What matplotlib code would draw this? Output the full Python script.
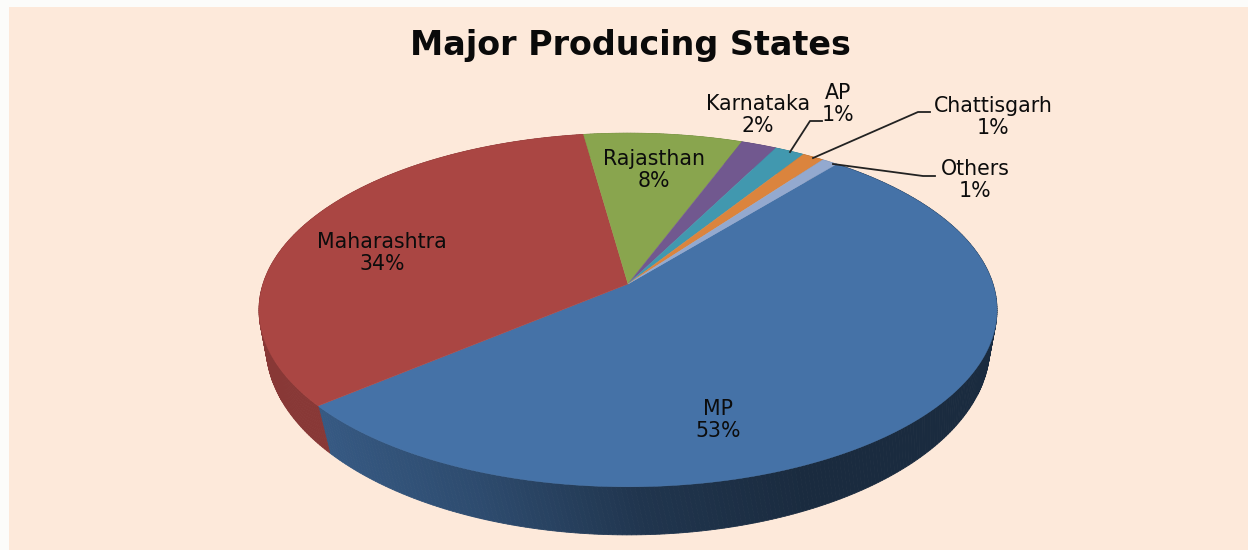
import numpy as np
import matplotlib
matplotlib.use("Agg")
import matplotlib.pyplot as plt
from matplotlib.colors import to_rgb

# ---- data ----
states = ["MP", "Maharashtra", "Rajasthan", "Karnataka", "AP", "Chattisgarh", "Others"]
shares = [53.0, 33.8, 8.0, 1.8, 1.5, 1.1, 0.8]
pct_labels = ["53%", "34%", "8%", "2%", "1%", "1%", "1%"]
colors = ["#4572a7", "#aa4643", "#89a54e", "#71588f", "#4198af", "#db843d", "#93a9cf"]
label_xy = [(718, 420), (382, 253), (654, 170), (758, 115), (838, 104), (993, 117), (975, 180)]
leaders = {
    "AP": [(790, 152), (810, 121), (822, 121)],
    "Chattisgarh": [(813, 158), (918, 112), (930, 112)],
    "Others": [(833, 164), (923, 176), (935, 176)],
}

BG = "#fde9da"
START = 50.5          # degrees, first slice start, going clockwise
K = 0.147             # perspective factor
TOP = (628, 284, 365, 173)      # apex x, apex y, a, b  (upper rim)
BOT = (628, 318, 358, 185)      # apex x, apex y, a, b  (lower rim)
WALL_SKEW = np.radians(1.5)

def rim(t, p):
    x0, y0, a, b = p
    d = 1 + K * np.sin(t)
    return x0 + a * np.cos(t) / d, y0 - b * np.sin(t) / d

def shade(base, frac):
    return tuple(c * frac for c in to_rgb(base))

fig = plt.figure(figsize=(12.48, 5.50), dpi=100, facecolor="#fcfcfa")
ax = fig.add_axes([0, 0, 1, 1])
ax.set_xlim(0, 1248)
ax.set_ylim(550, 0)
ax.axis("off")
ax.fill([9, 1248, 1248, 9], [7, 7, 550, 550], color=BG, lw=0, zorder=0)

fracs = np.array(shares) / sum(shares)
edges = np.radians(START - 360 * np.concatenate([[0], np.cumsum(fracs)]))

# side wall
for i, c in enumerate(colors):
    ts = np.linspace(edges[i], edges[i + 1], max(3, int(abs(edges[i + 1] - edges[i]) * 90)))
    for t0, t1 in zip(ts[:-1], ts[1:]):
        xa, ya = rim(np.array([t0, t1]), TOP)
        xb, yb = rim(np.array([t1, t0]) + WALL_SKEW, BOT)
        xm = (xa.mean() + xb.mean()) / 2
        if i == 0:
            f = np.interp(xm, [328, 480, 640, 800, 1000], [0.78, 0.66, 0.47, 0.38, 0.38])
        else:
            f = 0.80
        col = shade(c, f)
        ax.fill(np.r_[xa, xb], np.r_[ya, yb], color=col, lw=0.6, zorder=1)

# top face
for i, c in enumerate(colors):
    ts = np.linspace(edges[i], edges[i + 1], 200)
    xs, ys = rim(ts, TOP)
    ax.fill(np.r_[TOP[0], xs], np.r_[TOP[1], ys], color=c, lw=0.3, zorder=2)

# leader lines
for name, pts in leaders.items():
    px, py = zip(*pts)
    ax.plot(px, py, color="#222222", lw=1.3, zorder=3, solid_joinstyle="round")

# labels
for name, pct, (x, y) in zip(states, pct_labels, label_xy):
    ax.text(x, y, f"{name}\n{pct}", ha="center", va="center", fontsize=14.8,
            family="DejaVu Sans", color="#0c0c0c", linespacing=1.15, zorder=4)

ax.text(630, 45, "Major Producing States", ha="center", va="center", fontsize=24,
        family="DejaVu Sans", fontweight="bold", color="#0a0a0a", zorder=4)

fig.savefig("out.png", dpi=100, facecolor=fig.get_facecolor())
